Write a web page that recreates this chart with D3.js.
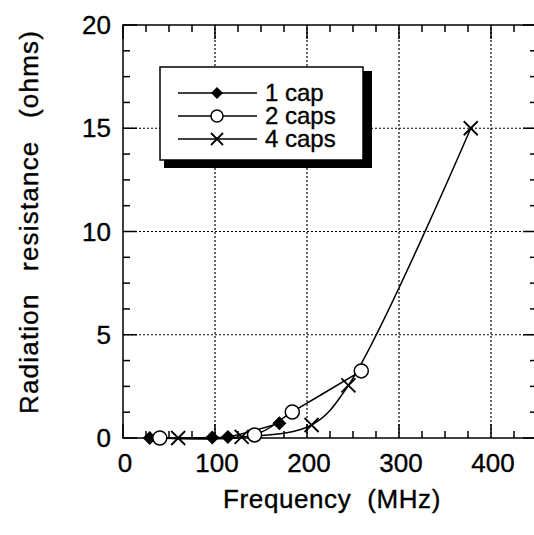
<!DOCTYPE html>
<html>
<head>
<meta charset="utf-8">
<script src="https://cdn.jsdelivr.net/npm/d3@7"></script>
<style>
  body { margin: 0; background: #fff; }
  svg { display: block; font-family: "Liberation Sans", Arial, sans-serif; }
  text { stroke: #000; stroke-width: 0.35px; }
</style>
</head>
<body>
<div id="chart"></div>
<script>
// data
const cap1Freq = [29, 97, 114, 170];
const cap1Res  = [0, 0.02, 0.05, 0.72];
const cap2Freq = [40, 143, 184, 259];
const cap2Res  = [0, 0.15, 1.26, 3.25];
const cap4Freq = [60, 129, 205, 245, 378];
const cap4Res  = [0, 0.05, 0.63, 2.55, 15.0];
const xTicks = [0, 100, 200, 300, 400];
const yTicks = [0, 5, 10, 15, 20];
const legendLabels = ["1 cap", "2 caps", "4 caps"];

const W = 534, H = 535;
const svg = d3.select('#chart').append('svg').attr('width', W).attr('height', H);

const x = d3.scaleLinear().domain([0, 450]).range([123, 537]);
const y = d3.scaleLinear().domain([0, 20]).range([438, 25]);

const x0 = x(0), x1 = x(450), yb = y(0), yt = y(20);

// grid
const grid = svg.append('g').attr('stroke', '#000').attr('stroke-width', 1.2).attr('stroke-dasharray', '2,2');
xTicks.filter(d => d > 0).forEach(d => {
    grid.append('line').attr('x1', x(d)).attr('x2', x(d)).attr('y1', yb).attr('y2', yt);
});
yTicks.filter(d => d > 0 && d < 20).forEach(d => {
    grid.append('line').attr('x1', x0).attr('x2', x1).attr('y1', y(d)).attr('y2', y(d));
});

// frame + ticks on every side
const frame = svg.append('g').attr('stroke', '#000').attr('stroke-width', 1.5).attr('fill', 'none');
frame.append('rect').attr('x', x0).attr('y', yt).attr('width', x1 - x0).attr('height', yb - yt);

const xMinor = d3.range(0, 451, 25);
const yMinor = d3.range(0, 20.01, 1.25);
xMinor.forEach(d => {
    const len = d % 100 === 0 ? 14 : 7;
    frame.append('line').attr('x1', x(d)).attr('x2', x(d)).attr('y1', yb).attr('y2', yb - len);
    frame.append('line').attr('x1', x(d)).attr('x2', x(d)).attr('y1', yt).attr('y2', yt + len);
});
yMinor.forEach(d => {
    const len = d % 5 === 0 ? 14 : 7;
    frame.append('line').attr('x1', x0).attr('x2', x0 + len).attr('y1', y(d)).attr('y2', y(d));
    frame.append('line').attr('x1', x1).attr('x2', x1 - len).attr('y1', y(d)).attr('y2', y(d));
});

// tick labels
svg.append('g').selectAll('text').data(xTicks).join('text')
    .attr('x', d => x(d) + 2).attr('y', 472)
    .attr('text-anchor', 'middle').attr('font-size', 26)
    .text(d => d);
svg.append('g').selectAll('text').data(yTicks).join('text')
    .attr('x', 111).attr('y', d => y(d) + 9)
    .attr('text-anchor', 'end').attr('font-size', 26)
    .text(d => d);

// axis titles
svg.append('text').attr('x', 332).attr('y', 508).attr('text-anchor', 'middle')
    .attr('font-size', 26).attr('word-spacing', 8).attr('letter-spacing', 0.6)
    .text('Frequency (MHz)');
svg.append('text').attr('transform', 'translate(38,222) rotate(-90)').attr('text-anchor', 'middle')
    .attr('font-size', 26).attr('word-spacing', 14).attr('letter-spacing', 1.2)
    .text('Radiation resistance (ohms)');

// markers
function drawMarker(g, type, cx, cy, s) {
    if (type === 'diamond') {
        g.append('path').attr('d', `M${cx},${cy - s}L${cx + s},${cy}L${cx},${cy + s}L${cx - s},${cy}Z`)
            .attr('fill', '#000');
    } else if (type === 'circle') {
        g.append('circle').attr('cx', cx).attr('cy', cy).attr('r', s)
            .attr('fill', '#fff').attr('stroke', '#000').attr('stroke-width', 1.5);
    } else {
        g.append('path').attr('d', `M${cx - s},${cy - s}L${cx + s},${cy + s}M${cx - s},${cy + s}L${cx + s},${cy - s}`)
            .attr('stroke', '#000').attr('stroke-width', 1.8);
    }
}

const series = [
    { f: cap1Freq, r: cap1Res, m: 'diamond', s: 7 },
    { f: cap2Freq, r: cap2Res, m: 'circle', s: 7 },
    { f: cap4Freq, r: cap4Res, m: 'cross', s: 7 }
];

const line = d3.line().x(d => x(d[0])).y(d => y(d[1])).curve(d3.curveCatmullRom.alpha(0.5));
const plot = svg.append('g');
series.forEach(sr => {
    const pts = sr.f.map((f, i) => [f, sr.r[i]]);
    plot.append('path').datum(pts).attr('d', line)
        .attr('fill', 'none').attr('stroke', '#000').attr('stroke-width', 1.5);
});
series.forEach(sr => {
    sr.f.forEach((f, i) => drawMarker(plot, sr.m, x(f), y(sr.r[i]), sr.s));
});

// legend with drop shadow
const lg = svg.append('g');
lg.append('rect').attr('x', 164).attr('y', 71).attr('width', 208).attr('height', 97).attr('fill', '#000');
lg.append('rect').attr('x', 160).attr('y', 67).attr('width', 203).attr('height', 93)
    .attr('fill', '#fff').attr('stroke', '#000').attr('stroke-width', 1.5);
const rows = [93, 116, 139];
legendLabels.forEach((lab, i) => {
    lg.append('line').attr('x1', 178).attr('x2', 257).attr('y1', rows[i]).attr('y2', rows[i])
        .attr('stroke', '#000').attr('stroke-width', 1.5);
    drawMarker(lg, series[i].m, 217, rows[i], 6);
    lg.append('text').attr('x', 265).attr('y', rows[i] + 8).attr('font-size', 24).text(lab);
});
</script>
</body>
</html>
